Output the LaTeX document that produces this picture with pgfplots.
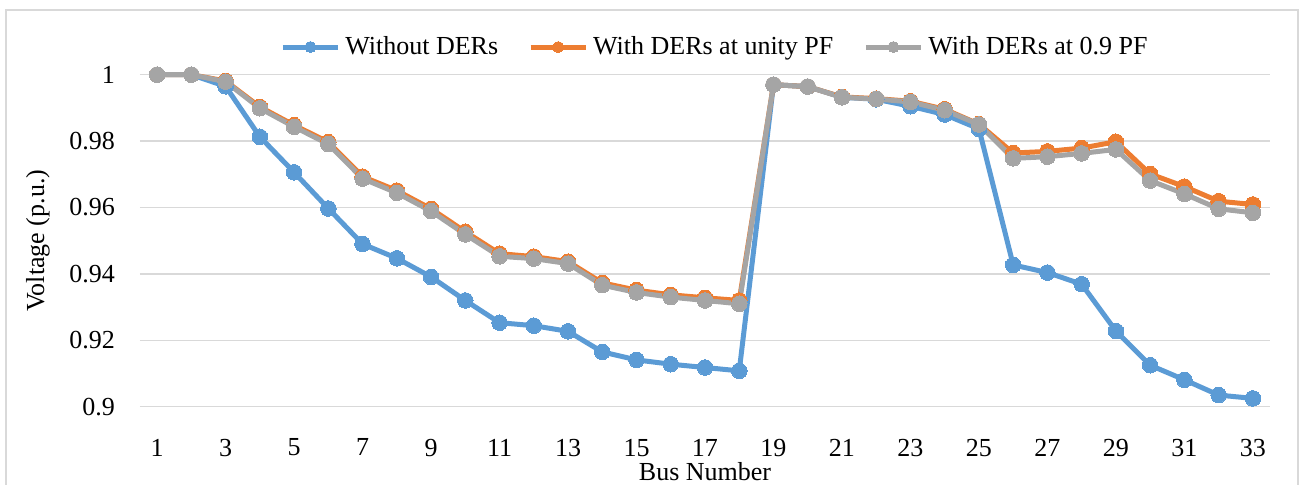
\documentclass[border=0pt]{standalone}
\usepackage{pgfplots}
\pgfplotsset{compat=1.18}
\usepackage{pgfplotstable}
\usepackage{fontspec}
\setmainfont{Liberation Serif}
\definecolor{cblue}{HTML}{5B9BD5}
\definecolor{corange}{HTML}{ED7D31}
\definecolor{cgray}{HTML}{A5A5A5}
\definecolor{cgrid}{HTML}{D9D9D9}

\pgfplotstableread{
bus noder unity pf09
1 1.0000 1.0000 1.0000
2 1.0000 1.0000 1.0000
3 0.9965 0.9981 0.9979
4 0.9813 0.9903 0.9899
5 0.9706 0.9848 0.9843
6 0.9597 0.9797 0.9791
7 0.9490 0.9693 0.9687
8 0.9447 0.9651 0.9644
9 0.9391 0.9596 0.9589
10 0.9320 0.9527 0.9519
11 0.9253 0.9461 0.9453
12 0.9244 0.9452 0.9446
13 0.9227 0.9437 0.9431
14 0.9165 0.9373 0.9366
15 0.9141 0.9351 0.9344
16 0.9128 0.9337 0.9330
17 0.9118 0.9328 0.9320
18 0.9108 0.9320 0.9310
19 0.9970 0.9970 0.9970
20 0.9964 0.9964 0.9964
21 0.9932 0.9933 0.9932
22 0.9926 0.9928 0.9927
23 0.9905 0.9920 0.9918
24 0.9880 0.9896 0.9893
25 0.9837 0.9851 0.9850
26 0.9427 0.9764 0.9748
27 0.9404 0.9769 0.9753
28 0.9369 0.9779 0.9763
29 0.9228 0.9798 0.9775
30 0.9125 0.9701 0.9681
31 0.9081 0.9663 0.9641
32 0.9035 0.9619 0.9596
33 0.9025 0.9609 0.9584
}\datatable

\begin{document}
\begin{tikzpicture}
\fontsize{26bp}{30bp}\selectfont
\draw[cgrid, line width=1.5bp] (-134bp,-120bp) rectangle (1158bp,396.7bp);
\begin{axis}[
  at={(0,0)}, anchor=south west,
  scale only axis,
  width=1130bp, height=332bp,
  xmin=0.5, xmax=33.5,
  ymin=0.9, ymax=1,
  xtick={1,3,...,33},
  ytick={0.9,0.92,0.94,0.96,0.98,1},
  yticklabels={0.9,0.92,0.94,0.96,0.98,1},
  major tick length=0pt,
  axis line style={draw=none},
  ymajorgrids,
  grid style={cgrid, line width=1.5bp},
  tick label style={font=\fontsize{26bp}{30bp}\selectfont, inner sep=0pt},
  /pgf/number format/assume math mode=true,
  xticklabel shift=32bp,
  yticklabel shift=25bp,
  xlabel={Bus Number},
  ylabel={Voltage (p.u.)},
  label style={font=\fontsize{26bp}{30bp}\selectfont, inner sep=0pt},
  xlabel style={at={(rel axis cs:0.5,0)}, anchor=center, yshift=-65bp},
  ylabel style={at={([xshift=-102bp]rel axis cs:0,0.5)}, anchor=center, rotate=0},
  legend columns=3,
  legend style={draw=none, fill=none, at={(rel axis cs:0.508,1.0834)}, anchor=center,
    font=\fontsize{26bp}{30bp}\selectfont, inner sep=0pt,
    nodes={inner sep=0pt},
    /tikz/every odd column/.append style={column sep=5bp},
    /tikz/every even column/.append style={column sep=30bp}},
  legend image code/.code={
    \draw[#1, mark size=5.5bp, mark repeat=2, mark phase=2] plot coordinates {(0bp,0bp) (27.5bp,0bp) (55bp,0bp)};
  },
  every axis plot/.append style={line width=5bp, mark=*, mark size=7.8bp},
  clip=false,
]
\addplot[cblue, mark options={fill=cblue, draw=cblue, line width=0pt}] table[x=bus, y=noder] {\datatable};
\addlegendentry{Without DERs}
\addplot[corange, mark options={fill=corange, draw=corange, line width=0pt}] table[x=bus, y=unity] {\datatable};
\addlegendentry{With DERs at unity PF}
\addplot[cgray, mark options={fill=cgray, draw=cgray, line width=0pt}] table[x=bus, y=pf09] {\datatable};
\addlegendentry{With DERs at 0.9 PF}
\end{axis}
\pgfresetboundingbox
\useasboundingbox (-140bp,-78.3bp) rectangle (1163bp,406.7bp);
\end{tikzpicture}
\end{document}
